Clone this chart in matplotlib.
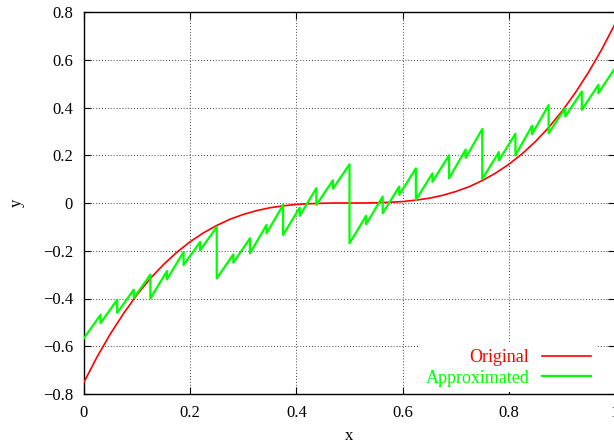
import matplotlib
matplotlib.use("Agg")
import matplotlib.pyplot as plt

# original curve, sampled every 0.025
orig_x = [i * 0.025 for i in range(41)]
orig_y = [-0.750, -0.643, -0.547, -0.461, -0.384, -0.316, -0.257, -0.206,
          -0.162, -0.125, -0.094, -0.068, -0.048, -0.032, -0.020, -0.012,
          -0.006, -0.003, -0.001, 0.000, 0.000, 0.000, 0.001, 0.003,
          0.006, 0.012, 0.020, 0.032, 0.048, 0.068, 0.094, 0.125,
          0.162, 0.206, 0.257, 0.316, 0.384, 0.461, 0.547, 0.643, 0.750]

# approximated curve: sawtooth, jumps drawn as vertical steps
approx_x = [
    0.0, 0.03125, 0.03125, 0.0625,
    0.0625, 0.09375, 0.09375, 0.125,
    0.125, 0.15625, 0.15625, 0.1875,
    0.1875, 0.21875, 0.21875, 0.25,
    0.25, 0.28125, 0.28125, 0.3125,
    0.3125, 0.34375, 0.34375, 0.375,
    0.375, 0.40625, 0.40625, 0.4375,
    0.4375, 0.46875, 0.46875, 0.5,
    0.5, 0.53125, 0.53125, 0.5625,
    0.5625, 0.59375, 0.59375, 0.625,
    0.625, 0.65625, 0.65625, 0.6875,
    0.6875, 0.71875, 0.71875, 0.75,
    0.75, 0.78125, 0.78125, 0.8125,
    0.8125, 0.84375, 0.84375, 0.875,
    0.875, 0.90625, 0.90625, 0.9375,
    0.9375, 0.96875, 0.96875, 1.0,
]
approx_y = [
    -0.566, -0.468, -0.503, -0.405,
    -0.460, -0.363, -0.398, -0.300,
    -0.400, -0.285, -0.320, -0.205,
    -0.260, -0.163, -0.198, -0.100,
    -0.316, -0.215, -0.250, -0.148,
    -0.211, -0.092, -0.127, -0.008,
    -0.134, -0.019, -0.054, 0.062,
    -0.008, 0.095, 0.060, 0.162,
    -0.169, -0.054, -0.089, 0.027,
    -0.043, 0.069, 0.034, 0.145,
    0.013, 0.124, 0.089, 0.200,
    0.103, 0.224, 0.189, 0.310,
    0.100, 0.213, 0.178, 0.290,
    0.200, 0.323, 0.288, 0.410,
    0.292, 0.397, 0.362, 0.467,
    0.390, 0.495, 0.460, 0.565,
]

x_ticks = [0, 0.2, 0.4, 0.6, 0.8, 1]
x_labels = ["0", "0.2", "0.4", "0.6", "0.8", "1"]
y_ticks = [-0.8, -0.6, -0.4, -0.2, 0, 0.2, 0.4, 0.6, 0.8]
y_labels = ["\u22120.8", "\u22120.6", "\u22120.4", "\u22120.2", "0",
            "0.2", "0.4", "0.6", "0.8"]

plt.rcParams["font.family"] = ["Liberation Serif", "DejaVu Serif"]
plt.rcParams["font.size"] = 12

fig = plt.figure(figsize=(6.14, 4.46), dpi=100)
ax = fig.add_axes([84 / 614, 1 - 394 / 446, 531 / 614, 382 / 446])

ax.plot(orig_x, orig_y, color="#ff0000", lw=1.2, label="Original", zorder=3)
ax.plot(approx_x, approx_y, color="#00ff00", lw=1.6, label="Approximated", zorder=3)

ax.set_xlim(0, 1)
ax.set_ylim(-0.8, 0.8)
ax.set_xticks(x_ticks)
ax.set_xticklabels(x_labels)
ax.set_yticks(y_ticks)
ax.set_yticklabels(y_labels)
ax.tick_params(direction="in", length=5, width=0.8, top=True, right=True, pad=8)
ax.grid(True, color="black", linestyle=(0, (1, 2)), linewidth=0.7, alpha=0.75)
for s in ax.spines.values():
    s.set_linewidth(1.0)

ax.set_xlabel("x", labelpad=5)
ax.set_ylabel("y", labelpad=13)

leg = ax.legend(loc="lower right", markerfirst=False, labelcolor="linecolor",
                frameon=True, framealpha=1, facecolor="white", edgecolor="none",
                fancybox=False, handlelength=2.7, borderaxespad=0.1,
                borderpad=0.3, labelspacing=0.2, handletextpad=0.7,
                fontsize=13, bbox_to_anchor=(0.968, 0.0))
leg.set_zorder(5)

fig.savefig("out.png", dpi=100)
